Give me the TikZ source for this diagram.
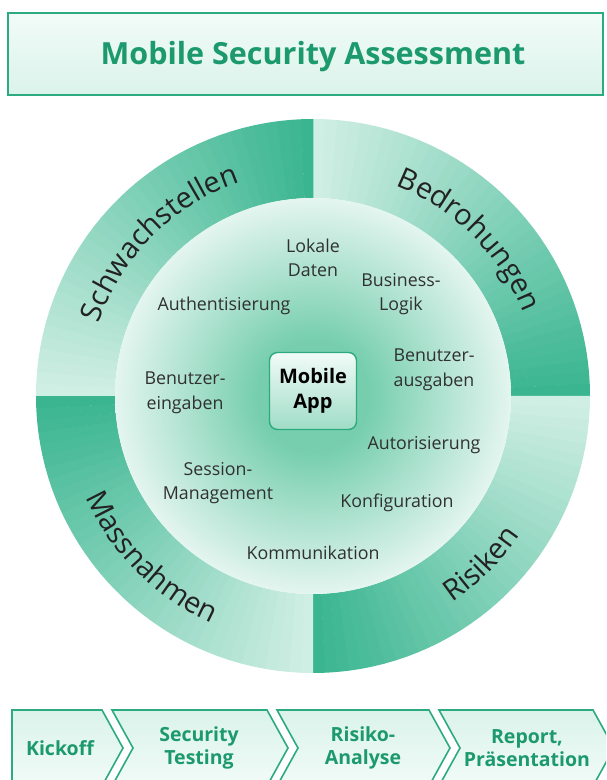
\documentclass[tikz,border=0pt]{standalone}
\usepackage{fontspec}
\setmainfont{Open Sans}
\usetikzlibrary{calc,decorations.text}

\definecolor{ringdark}{RGB}{58,181,144}
\definecolor{ringlight}{RGB}{208,239,228}
\definecolor{edgegreen}{RGB}{44,170,128}
\definecolor{headgreen}{RGB}{28,154,110}
\definecolor{mint}{RGB}{218,243,234}
\definecolor{mintpale}{RGB}{242,251,248}
\definecolor{coregreen}{RGB}{118,206,175}
\colorlet{coremid}{coregreen!55!white}
\colorlet{corepale}{coregreen!20!white}
\definecolor{ink}{RGB}{34,34,34}
\definecolor{labelgray}{RGB}{48,48,48}

\pgfdeclareradialshading{coreglow}{\pgfpoint{0bp}{0bp}}{color(0bp)=(coregreen); color(7bp)=(coregreen); color(17bp)=(coremid); color(25bp)=(corepale); color(31bp)=(white); color(50bp)=(white)}

\newcommand\ringfont{\fontsize{29}{29}\selectfont}

\begin{document}
\begin{tikzpicture}[x=1pt,y=1pt]
  \tikzstyle{banner}=[draw=edgegreen,line width=1.6,top color=mintpale,bottom color=mint]
  \tikzstyle{headline}=[text=headgreen,font=\bfseries\fontsize{30.5}{30.5}\selectfont]
  \tikzstyle{facet}=[align=center,text=labelgray,font=\fontsize{17.8}{24.5}\selectfont]
  \tikzstyle{appbox}=[draw=edgegreen,line width=1.4,rounded corners=8pt,align=center,
                      minimum width=87,minimum height=77,top color=mintpale,bottom color=coregreen!70!white,
                      font=\bfseries\fontsize{20}{25}\selectfont]
  \tikzstyle{ringtext}=[decorate,decoration={text along path,text align=center,text color=ink}]
  \tikzstyle{stage}=[draw=edgegreen,line width=1.6,top color=mint,bottom color=mintpale]
  \tikzstyle{stagelabel}=[align=center,text=headgreen,font=\bfseries\fontsize{19.5}{23}\selectfont]

  \useasboundingbox (0,0) rectangle (606,780);
  \clip (0,0) rectangle (606,780);

  \node[banner,minimum width=595,minimum height=82] (T) at (305.5,726) {};
  \node[headline]                                  (H) at (313,723)   {Mobile Security Assessment};

  \coordinate (C) at (313,384);
  \foreach \a in {90,0,-90,-180}
    \foreach \i in {0,...,35}{
      \pgfmathsetmacro\p{100*\i/35}
      \fill[ringdark!\p!ringlight] ($(C)+(\a-2.5*\i:277)$) arc[start angle=\a-2.5*\i,end angle=\a-2.5*\i-2.6,radius=277]
        -- ++(\a-2.5*\i-2.6:-79) arc[start angle=\a-2.5*\i-2.6,end angle=\a-2.5*\i,radius=198] -- cycle;
    }
  \shade[shading=coreglow] (C) circle[radius=198];

  \path[ringtext,decoration={text={|\ringfont|Schwachstellen}}] ($(C)+(175:226)$) arc[start angle=175,end angle=95,radius=226];
  \path[ringtext,decoration={text={|\ringfont|Bedrohungen}}]    ($(C)+(85:226)$)  arc[start angle=85,end angle=5,radius=226];
  \path[ringtext,decoration={text={|\ringfont|Risiken}}]        ($(C)+(-85:249)$) arc[start angle=-85,end angle=-5,radius=249];
  \path[ringtext,decoration={text={|\ringfont|Massnahmen}}]     ($(C)+(185:249)$) arc[start angle=185,end angle=265,radius=249];

  \node[appbox] (A) at (313,389) {Mobile\\App};

  \node[facet] (ld) at (313,522) {Lokale\\Daten};
  \node[facet] (bl) at (401,486) {Business-\\Logik};
  \node[facet] (ba) at (434,410) {Benutzer-\\ausgaben};
  \node[facet] (az) at (424,335) {Autorisierung};
  \node[facet] (kf) at (397,277) {Konfiguration};
  \node[facet] (km) at (313,227) {Kommunikation};
  \node[facet] (sm) at (218,297) {Session-\\Management};
  \node[facet] (be) at (185,387) {Benutzer-\\eingaben};
  \node[facet] (au) at (224,474) {Authentisierung};

  \draw[stage] (12,70) -- (102,70) -- (123,32) -- (102,-6) -- (12,-6) -- cycle;
  \foreach \l/\r in {112/267,277/429,439/593}
    \draw[stage] (\l,70) -- (\r,70) -- (\r+21,32) -- (\r,-6) -- (\l,-6) -- (\l+21,32) -- cycle;

  \node[stagelabel] (k) at (60,32)  {Kickoff};
  \node[stagelabel] (s) at (199,32) {Security\\Testing};
  \node[stagelabel] (r) at (363,32) {Risiko-\\Analyse};
  \node[stagelabel] (p) at (527,32) {Report,\\Präsentation};
\end{tikzpicture}
\end{document}
